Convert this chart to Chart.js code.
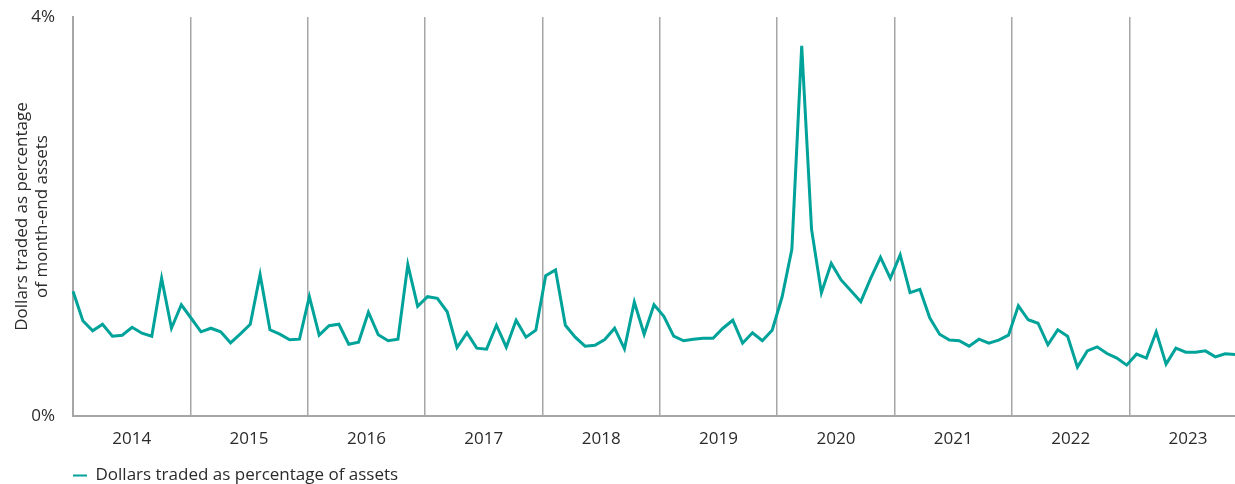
<!DOCTYPE html>
<html lang="en">
<head>
    <meta charset="UTF-8">
    <title>Dollars traded as percentage of assets</title>
    <script src="https://cdn.jsdelivr.net/npm/chart.js"></script>
    <style>
        html, body {
            margin: 0;
            padding: 0;
            background: #ffffff;
        }

        .chart-container {
            width: 1235px;
            height: 484px;
        }
    </style>
</head>
<body>
    <div class="chart-container">
        <canvas id="tradingChart"></canvas>
    </div>

    <script>
        // Data: monthly, Jan 2014 - Nov 2023
        const years = ['2014', '2015', '2016', '2017', '2018', '2019', '2020', '2021', '2022', '2023'];
        const monthNames = ['Jan', 'Feb', 'Mar', 'Apr', 'May', 'Jun', 'Jul', 'Aug', 'Sep', 'Oct', 'Nov', 'Dec'];

        const tradedPct = [
            1.25, 0.955, 0.854, 0.92, 0.80, 0.81, 0.89, 0.83, 0.80, 1.38, 0.88, 1.115,
            0.98, 0.844, 0.88, 0.844, 0.734, 0.824, 0.92, 1.417, 0.864, 0.82, 0.764, 0.77,
            1.196, 0.81, 0.905, 0.92, 0.72, 0.74, 1.04, 0.814, 0.754, 0.77, 1.518, 1.10,
            1.196, 1.18, 1.045, 0.687, 0.834, 0.68, 0.67, 0.91, 0.69, 0.96, 0.79, 0.86,
            1.407, 1.464, 0.91, 0.79, 0.70, 0.71, 0.767, 0.88, 0.673, 1.143, 0.82, 1.115,
            1.00, 0.80, 0.754, 0.77, 0.78, 0.78, 0.88, 0.96, 0.73, 0.834, 0.754, 0.86,
            1.19, 1.67, 3.71, 1.87, 1.236, 1.53, 1.364, 1.256, 1.146, 1.38, 1.59, 1.38,
            1.615, 1.237, 1.27, 0.985, 0.82, 0.762, 0.754, 0.70, 0.77, 0.73, 0.76, 0.81,
            1.105, 0.965, 0.93, 0.714, 0.864, 0.80, 0.49, 0.653, 0.693, 0.626, 0.58, 0.51,
            0.62, 0.58, 0.844, 0.52, 0.68, 0.64, 0.64, 0.653, 0.593, 0.623, 0.616
        ];

        const yTicks = [0, 4];

        const monthLabels = tradedPct.map((v, i) => monthNames[i % 12] + ' ' + years[Math.floor(i / 12)]);

        const teal = '#00a39a';
        const grey = '#a6a6a6';
        const textColor = '#2b2b2b';
        const fontFamily = "'Open Sans', sans-serif";

        // keep the legend row tight against the bottom edge
        const legendHeightFix = {
            id: 'legendHeightFix',
            beforeUpdate(chart) {
                const legend = chart.legend;
                if (!legend || legend._patched) return;
                const fit = legend.fit.bind(legend);
                legend.fit = function () {
                    fit();
                    this.height = 17;
                };
                legend._patched = true;
            }
        };

        const ctx = document.getElementById('tradingChart').getContext('2d');
        new Chart(ctx, {
            type: 'line',
            data: {
                labels: monthLabels,
                datasets: [{
                    label: 'Dollars traded as percentage of assets',
                    data: tradedPct,
                    borderColor: teal,
                    backgroundColor: teal,
                    borderWidth: 3,
                    pointRadius: 0,
                    tension: 0,
                    xAxisID: 'x',
                    yAxisID: 'y'
                }]
            },
            options: {
                responsive: true,
                maintainAspectRatio: false,
                animation: false,
                layout: {
                    padding: 0
                },
                plugins: {
                    legend: {
                        position: 'bottom',
                        align: 'start',
                        fullSize: false,
                        labels: {
                            usePointStyle: true,
                            pointStyle: 'line',
                            pointStyleWidth: 14,
                            padding: 0,
                            color: textColor,
                            font: { family: fontFamily, size: 17 },
                            generateLabels: (chart) => {
                                const items = Chart.defaults.plugins.legend.labels.generateLabels(chart);
                                items.forEach(item => { item.lineWidth = 2; });
                                return items;
                            }
                        }
                    },
                    tooltip: { enabled: false }
                },
                scales: {
                    // month axis that places the data points
                    x: {
                        type: 'category',
                        display: false,
                        offset: false
                    },
                    // year axis: dividers and year labels
                    years: {
                        type: 'linear',
                        position: 'bottom',
                        min: 0,
                        max: 118.8,
                        afterBuildTicks: (scale) => {
                            const ticks = [];
                            years.forEach((y, k) => {
                                ticks.push({ value: k * 12 });
                                ticks.push({ value: k * 12 + 6 });
                            });
                            scale.ticks = ticks;
                        },
                        afterFit: (scale) => {
                            scale.height = 51;
                        },
                        ticks: {
                            autoSkip: false,
                            maxRotation: 0,
                            padding: 13,
                            color: textColor,
                            font: { family: fontFamily, size: 17 },
                            callback: (value) => value % 12 === 6 ? years[(value - 6) / 12] : ''
                        },
                        grid: {
                            drawTicks: false,
                            lineWidth: 1.5,
                            color: (c) => (c.tick && c.tick.value % 12 === 0 && c.tick.value > 0) ? grey : 'rgba(0,0,0,0)'
                        },
                        border: {
                            display: true,
                            color: grey,
                            width: 2
                        }
                    },
                    y: {
                        min: 0,
                        max: 4,
                        afterBuildTicks: (scale) => {
                            scale.ticks = yTicks.map(v => ({ value: v }));
                        },
                        afterFit: (scale) => {
                            scale.width = 73;
                            scale.paddingTop = 17;
                            scale.paddingBottom = 0;
                        },
                        ticks: {
                            padding: 18,
                            color: textColor,
                            font: { family: fontFamily, size: 17 },
                            callback: (value) => value + '%'
                        },
                        grid: {
                            display: false,
                            drawTicks: false
                        },
                        border: {
                            display: true,
                            color: grey,
                            width: 2
                        },
                        title: {
                            display: true,
                            text: ['Dollars traded as percentage', 'of month-end assets'],
                            color: textColor,
                            font: { family: fontFamily, size: 17, lineHeight: 1.18 },
                            padding: { top: 12, bottom: 0 }
                        }
                    }
                }
            },
            plugins: [legendHeightFix]
        });
    </script>
</body>
</html>
